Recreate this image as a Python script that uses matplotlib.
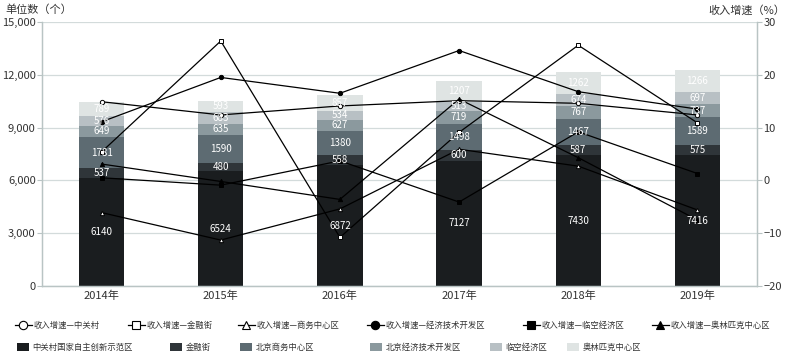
import matplotlib
matplotlib.use('Agg')
import matplotlib.pyplot as plt
from matplotlib.lines import Line2D
from matplotlib.patches import Patch
import numpy as np

plt.rcParams['font.family'] = ['Noto Sans CJK SC', 'DejaVu Sans']

years = ['2014年', '2015年', '2016年', '2017年', '2018年', '2019年']
zones = ['中关村国家自主创新示范区', '金融街', '北京商务中心区',
         '北京经济技术开发区', '临空经济区', '奥林匹克中心区']

# unit counts (stacked bars)
cnt_zgc = [6140, 6524, 6872, 7127, 7430, 7416]
cnt_jrj = [537, 480, 558, 600, 587, 575]
cnt_cbd = [1781, 1590, 1380, 1498, 1467, 1589]
cnt_jkq = [649, 635, 627, 719, 767, 737]
cnt_lk = [576, 683, 534, 513, 674, 697]
cnt_ao = [789, 593, 857, 1207, 1262, 1266]

# revenue growth (%)
line_names = ['收入增速—中关村', '收入增速—金融街', '收入增速—商务中心区',
              '收入增速—经济技术开发区', '收入增速—临空经济区', '收入增速—奥林匹克中心区']
g_zgc = [14.9, 12.4, 14.1, 15.1, 14.6, 12.4]
g_jrj = [5.4, 26.4, -10.8, 9.1, 25.6, 10.9]
g_cbd = [-6.1, -11.3, -5.4, 5.9, 2.7, -5.6]
g_jkq = [11.1, 19.5, 16.5, 24.6, 16.8, 13.5]
g_lk = [0.5, -0.9, 3.7, -4.1, 9.2, 1.3]
g_ao = [3.1, -0.2, -3.6, 15.4, 4.3, -7.5]

bar_colors = ['#1a1d1f', '#2f3539', '#5d6b72', '#8b999e', '#b8c0c4', '#dfe4e3']
markers = ['o', 's', '^', 'o', 's', '^']
fills = ['white', 'white', 'white', 'black', 'black', 'black']

W, H = 789, 360
fig = plt.figure(figsize=(W / 100, H / 100), dpi=100)
ax = fig.add_axes([42 / W, 1 - 286 / H, (757 - 42) / W, (286 - 22) / H])
ax2 = ax.twinx()

x = np.arange(len(years))
counts = [cnt_zgc, cnt_jrj, cnt_cbd, cnt_jkq, cnt_lk, cnt_ao]
bottom = np.zeros(len(years))
label_specs = []
for vals, col in zip(counts, bar_colors):
    vals = np.array(vals)
    ax.bar(x, vals, 0.38, bottom=bottom, color=col, zorder=2, linewidth=0)
    for xi, b, v in zip(x, bottom, vals):
        label_specs.append((xi, b + v / 2, str(v)))
    bottom = bottom + vals

ax.set_xlim(-0.5, 5.5)
ax.set_ylim(0, 15000)
ax.set_yticks(np.arange(0, 15001, 3000))
ax.set_yticklabels([f'{v:,}' for v in range(0, 15001, 3000)])
ax.set_xticks(x)
ax.set_xticklabels(years)
ax.grid(axis='y', color='#d3dbdb', linewidth=0.9, zorder=0)
ax.set_axisbelow(True)

growths = [g_zgc, g_jrj, g_cbd, g_jkq, g_lk, g_ao]
for g, m, f in zip(growths, markers, fills):
    ax2.plot(x, g, color='black', linewidth=0.9, marker=m, markersize=3.1,
             markerfacecolor=f, markeredgecolor='black', markeredgewidth=0.7, zorder=3)
ax2.set_ylim(-20, 30)
ax2.set_yticks(np.arange(-20, 31, 10))

for xi, yv, s in label_specs:
    ax2.text(xi, yv, s, transform=ax.transData, ha='center', va='center',
             color='white', fontsize=7, zorder=5)

spine_c = '#b9c4c4'
for a in (ax, ax2):
    for sp in a.spines.values():
        sp.set_color(spine_c)
        sp.set_linewidth(0.9)
    a.spines['top'].set_visible(False)
ax.tick_params(axis='y', length=3.5, width=0.8, color=spine_c, pad=1,
               labelsize=8, labelcolor='#333333')
ax2.tick_params(axis='y', length=3.5, width=0.8, color=spine_c, pad=1,
                labelsize=8, labelcolor='#333333')
ax.tick_params(axis='x', length=0, pad=3.5, labelsize=8, labelcolor='#333333')

fig.text(5 / W, 1 - 10 / H, '单位数（个）', ha='left', va='center', fontsize=8, color='#333333')
fig.text(785 / W, 1 - 10 / H, '收入增速（%）', ha='right', va='center', fontsize=8, color='#333333')

# legend row 1: lines
row1_x = [15, 128, 238, 367, 523, 652]
for name, m, f, xp in zip(line_names, markers, fills, row1_x):
    h = Line2D([0], [0], color='black', linewidth=0.9, marker=m, markersize=6,
               markerfacecolor=f, markeredgecolor='black', markeredgewidth=0.8)
    fig.legend(handles=[h], labels=[name], loc='center left',
               bbox_to_anchor=(xp / W, 1 - 325 / H), frameon=False, fontsize=6,
               handlelength=2.0, handletextpad=0.25, borderpad=0, borderaxespad=0,
               labelcolor='#333333')

# legend row 2: bars
row2_x = [17, 170, 240, 370, 490, 567]
for name, col, xp in zip(zones, bar_colors, row2_x):
    h = Patch(facecolor=col, edgecolor='none')
    fig.legend(handles=[h], labels=[name], loc='center left',
               bbox_to_anchor=(xp / W, 1 - 347 / H), frameon=False, fontsize=6,
               handlelength=1.45, handleheight=1.1, handletextpad=0.4,
               borderpad=0, borderaxespad=0, labelcolor='#333333')

fig.savefig('out.png', dpi=100)
